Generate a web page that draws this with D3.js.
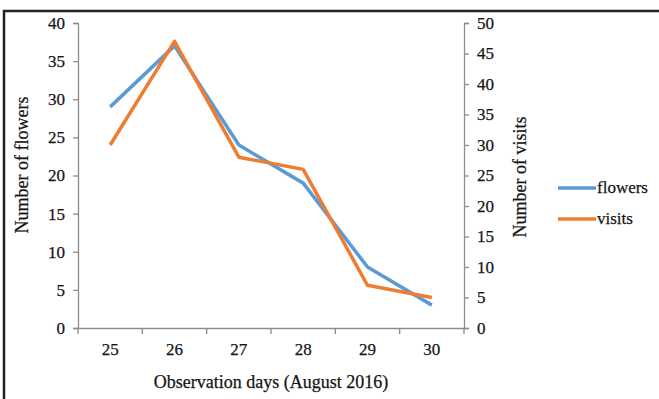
<!DOCTYPE html>
<html>
<head>
<meta charset="utf-8">
<script src="https://cdn.jsdelivr.net/npm/d3@7"></script>
<style>
  html, body { margin: 0; padding: 0; background: #fff; }
  svg { display: block; }
  text { font-family: "Liberation Serif", "Times New Roman", serif; fill: #151515; stroke: #151515; stroke-width: 0.25px; }
</style>
</head>
<body>
<svg id="chart" width="659" height="399"></svg>
<script>
// Observation days (August 2016)
const days = ["25", "26", "27", "28", "29", "30"];
// Number of flowers per day (left axis)
const flowers = [29, 37, 24, 19, 8, 3];
// Number of visits per day (right axis)
const visits = [30, 47, 28, 26, 7, 5];
const leftTicks = [0, 5, 10, 15, 20, 25, 30, 35, 40];
const rightTicks = [0, 5, 10, 15, 20, 25, 30, 35, 40, 45, 50];

const svg = d3.select("#chart");
const plot = { left: 78, right: 464, top: 23, bottom: 328 };
const axisColor = "#8c8c8c";

// frame around the figure
svg.append("path")
  .attr("d", `M4,399 V11 H659`)
  .attr("fill", "none").attr("stroke", "#222").attr("stroke-width", 2.5);

const x = d3.scaleBand().domain(days).range([plot.left, plot.right]);
const yL = d3.scaleLinear().domain([0, 40]).range([plot.bottom, plot.top]);
const yR = d3.scaleLinear().domain([0, 50]).range([plot.bottom, plot.top]);

function styleAxis(g) {
  g.attr("font-size", 17).attr("font-family", "'Liberation Serif', serif");
  g.selectAll("path, line").attr("stroke", axisColor).attr("stroke-width", 1.3);
  g.selectAll("text").attr("fill", "#151515").style("font-size", "17px");
}

// left axis
svg.append("g").attr("transform", `translate(${plot.left},0)`)
  .call(d3.axisLeft(yL).tickValues(leftTicks).tickSize(5).tickSizeOuter(5).tickPadding(8))
  .call(styleAxis);

// right axis
svg.append("g").attr("transform", `translate(${plot.right},0)`)
  .call(d3.axisRight(yR).tickValues(rightTicks).tickSize(5).tickSizeOuter(5).tickPadding(8))
  .call(styleAxis);

// bottom axis: tick marks at band boundaries, labels at band centres
const xAxisG = svg.append("g").attr("transform", `translate(0,${plot.bottom})`);
xAxisG.call(d3.axisBottom(x).tickSize(0).tickSizeOuter(0).tickPadding(15)).call(styleAxis);
const bounds = days.map(d => x(d)).concat([plot.right]);
xAxisG.selectAll("line.bound").data(bounds).enter().append("line")
  .attr("class", "bound")
  .attr("x1", d => d).attr("x2", d => d).attr("y1", 0).attr("y2", 6)
  .attr("stroke", axisColor).attr("stroke-width", 1.3);

const cx = d => x(d) + x.bandwidth() / 2;

const lineL = d3.line().x((d, i) => cx(days[i])).y(d => yL(d));
const lineR = d3.line().x((d, i) => cx(days[i])).y(d => yR(d));

svg.append("path").datum(flowers).attr("d", lineL)
  .attr("fill", "none").attr("stroke", "#5b9bd5").attr("stroke-width", 3.5)
  .attr("stroke-linejoin", "round");
svg.append("path").datum(visits).attr("d", lineR)
  .attr("fill", "none").attr("stroke", "#ed7d31").attr("stroke-width", 3.5)
  .attr("stroke-linejoin", "round");

// axis titles
svg.append("text")
  .attr("transform", `translate(28,165) rotate(-90)`)
  .attr("text-anchor", "middle").style("font-size", "18px")
  .text("Number  of flowers");
svg.append("text")
  .attr("transform", `translate(526,177) rotate(-90)`)
  .attr("text-anchor", "middle").style("font-size", "18px")
  .text("Number of visits");
svg.append("text")
  .attr("x", 271).attr("y", 388)
  .attr("text-anchor", "middle").style("font-size", "18px")
  .text("Observation days (August 2016)");

// legend
const legend = [
  { name: "flowers", color: "#5b9bd5", y: 188 },
  { name: "visits", color: "#ed7d31", y: 219 }
];
const lg = svg.append("g");
lg.selectAll("line").data(legend).enter().append("line")
  .attr("x1", 558).attr("x2", 596).attr("y1", d => d.y).attr("y2", d => d.y)
  .attr("stroke", d => d.color).attr("stroke-width", 3.5);
lg.selectAll("text").data(legend).enter().append("text")
  .attr("x", 597).attr("y", d => d.y + 5).style("font-size", "17px")
  .text(d => d.name);
</script>
</body>
</html>
